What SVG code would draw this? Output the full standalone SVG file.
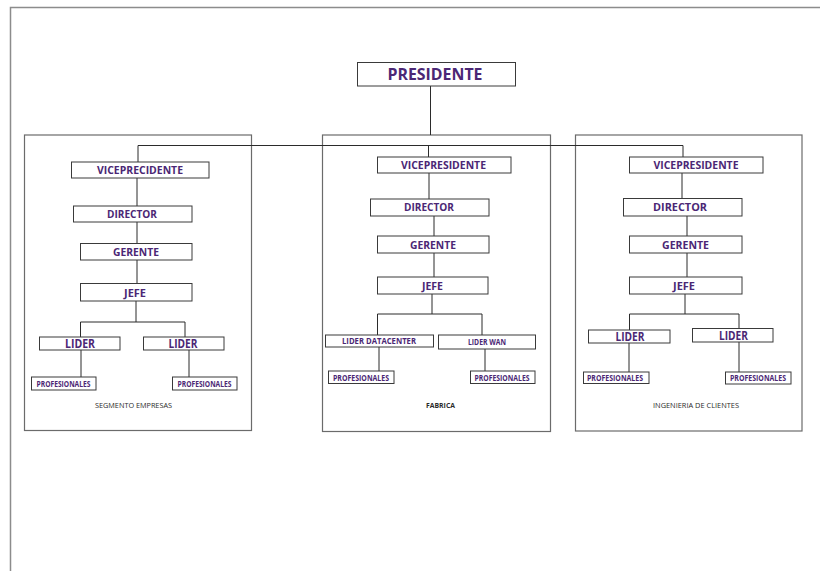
<svg xmlns="http://www.w3.org/2000/svg" width="820" height="571" viewBox="0 0 820 571">
  <style>
    .frame { fill: none; stroke: #8c8c8c; stroke-width: 1.5; }
    .section { fill: none; stroke: #6b6b6b; stroke-width: 1.2; }
    .box { fill: #ffffff; stroke: #3a3a3a; stroke-width: 1; }
    .link { fill: none; stroke: #2b2b2b; stroke-width: 1; }
    .t { font-family: "Open Sans", "Liberation Sans", sans-serif; font-weight: bold; fill: #4b2775; text-anchor: middle; }
    .cap { font-family: "Open Sans", "Liberation Sans", sans-serif; fill: #2a2a2a; text-anchor: middle; font-size: 7.8px; }
  </style>

  <rect width="820" height="571" fill="#ffffff"/>

  <!-- page frame -->
  <path class="frame" d="M10.5 571 V7.5 H820"/>

  <!-- department panels -->
  <g id="panels">
    <rect class="section" x="24.5" y="135" width="227" height="295.5"/>
    <rect class="section" x="322.5" y="135" width="228" height="296.5"/>
    <rect class="section" x="575.5" y="135" width="226.5" height="296"/>
  </g>

  <!-- connectors -->
  <g id="connectors">
    <path class="link" d="M430.5 86 V135"/>
    <path class="link" d="M138 145.5 H683"/>
    <!-- left branch -->
    <path class="link" d="M138 145.5 V162"/>
    <path class="link" d="M137 178 V206 M137 222 V243 M137 260 V283 M136 301 V322"/>
    <path class="link" d="M80.5 337 V322 H185 V337"/>
    <path class="link" d="M81 350 V377 M189 350 V377"/>
    <!-- middle branch -->
    <path class="link" d="M428.5 145.5 V157"/>
    <path class="link" d="M429 173 V199 M434 216 V236 M434 253 V277 M432 294 V314"/>
    <path class="link" d="M377.5 335 V314 H482 V335"/>
    <path class="link" d="M379 347 V371 M485 349 V371"/>
    <!-- right branch -->
    <path class="link" d="M683 145.5 V157"/>
    <path class="link" d="M682 173 V198 M687 216 V236 M687 253 V277 M685 294 V314"/>
    <path class="link" d="M629.5 330 V314 H739 V328"/>
    <path class="link" d="M629 343 V372 M739 342 V372"/>
  </g>

  <!-- top -->
  <g id="presidente">
    <rect class="box" x="357.5" y="62.5" width="158" height="23.5"/>
    <text class="t" x="435" y="79.5" font-size="15.5" textLength="95" lengthAdjust="spacingAndGlyphs">PRESIDENTE</text>
  </g>

  <!-- SEGMENTO EMPRESAS -->
  <g id="seg-vicepresidente">
    <rect class="box" x="71.5" y="162" width="137.5" height="16"/>
    <text class="t" x="140" y="173.8" font-size="10.8" textLength="86" lengthAdjust="spacingAndGlyphs">VICEPRECIDENTE</text>
  </g>
  <g id="seg-director">
    <rect class="box" x="73.5" y="206" width="118.5" height="16"/>
    <text class="t" x="132" y="217.8" font-size="10.8" textLength="50" lengthAdjust="spacingAndGlyphs">DIRECTOR</text>
  </g>
  <g id="seg-gerente">
    <rect class="box" x="80.5" y="243.5" width="111.5" height="16.5"/>
    <text class="t" x="136" y="255.5" font-size="10.8" textLength="46" lengthAdjust="spacingAndGlyphs">GERENTE</text>
  </g>
  <g id="seg-jefe">
    <rect class="box" x="80.5" y="283.5" width="111.5" height="17.5"/>
    <text class="t" x="135" y="296.5" font-size="10.8" textLength="22" lengthAdjust="spacingAndGlyphs">JEFE</text>
  </g>
  <g id="seg-lider-1">
    <rect class="box" x="39.5" y="337" width="80.5" height="13"/>
    <text class="t" x="80" y="347.8" font-size="12.5" textLength="30" lengthAdjust="spacingAndGlyphs">LIDER</text>
  </g>
  <g id="seg-lider-2">
    <rect class="box" x="143.5" y="337" width="80.5" height="13"/>
    <text class="t" x="183" y="347.8" font-size="12.5" textLength="29" lengthAdjust="spacingAndGlyphs">LIDER</text>
  </g>
  <g id="seg-profesionales-1">
    <rect class="box" x="31.5" y="377" width="64.5" height="13"/>
    <text class="t" x="63.5" y="386.5" font-size="8" textLength="54" lengthAdjust="spacingAndGlyphs">PROFESIONALES</text>
  </g>
  <g id="seg-profesionales-2">
    <rect class="box" x="172.5" y="377" width="64.5" height="13"/>
    <text class="t" x="204.5" y="386.5" font-size="8" textLength="54" lengthAdjust="spacingAndGlyphs">PROFESIONALES</text>
  </g>
  <text class="cap" x="133.5" y="407.5" textLength="77" lengthAdjust="spacingAndGlyphs">SEGMENTO EMPRESAS</text>

  <!-- FABRICA -->
  <g id="fab-vicepresidente">
    <rect class="box" x="377.5" y="157" width="133.5" height="16"/>
    <text class="t" x="443.5" y="168.8" font-size="10.8" textLength="85" lengthAdjust="spacingAndGlyphs">VICEPRESIDENTE</text>
  </g>
  <g id="fab-director">
    <rect class="box" x="370.5" y="199" width="118.5" height="17"/>
    <text class="t" x="429" y="211.3" font-size="10.8" textLength="50" lengthAdjust="spacingAndGlyphs">DIRECTOR</text>
  </g>
  <g id="fab-gerente">
    <rect class="box" x="377.5" y="236" width="111.5" height="17"/>
    <text class="t" x="433" y="248.8" font-size="10.8" textLength="46" lengthAdjust="spacingAndGlyphs">GERENTE</text>
  </g>
  <g id="fab-jefe">
    <rect class="box" x="377.5" y="277" width="110.5" height="17"/>
    <text class="t" x="432.5" y="289.8" font-size="10.8" textLength="21" lengthAdjust="spacingAndGlyphs">JEFE</text>
  </g>
  <g id="fab-lider-datacenter">
    <rect class="box" x="325.5" y="335" width="108" height="12"/>
    <text class="t" x="379" y="343.8" font-size="8" textLength="74" lengthAdjust="spacingAndGlyphs">LIDER DATACENTER</text>
  </g>
  <g id="fab-lider-wan">
    <rect class="box" x="438.5" y="335" width="97" height="14"/>
    <text class="t" x="487" y="345.3" font-size="8" textLength="38" lengthAdjust="spacingAndGlyphs">LIDER WAN</text>
  </g>
  <g id="fab-profesionales-1">
    <rect class="box" x="328.5" y="371" width="65.5" height="12.5"/>
    <text class="t" x="361" y="380.5" font-size="8" textLength="56" lengthAdjust="spacingAndGlyphs">PROFESIONALES</text>
  </g>
  <g id="fab-profesionales-2">
    <rect class="box" x="470.5" y="371" width="64.5" height="12.5"/>
    <text class="t" x="502" y="380.5" font-size="8" textLength="55" lengthAdjust="spacingAndGlyphs">PROFESIONALES</text>
  </g>
  <text class="cap" x="440.5" y="407.5" font-weight="bold" textLength="29" lengthAdjust="spacingAndGlyphs">FABRICA</text>

  <!-- INGENIERIA DE CLIENTES -->
  <g id="ing-vicepresidente">
    <rect class="box" x="629.5" y="157" width="133.5" height="16"/>
    <text class="t" x="696" y="168.8" font-size="10.8" textLength="85" lengthAdjust="spacingAndGlyphs">VICEPRESIDENTE</text>
  </g>
  <g id="ing-director">
    <rect class="box" x="623.5" y="198.5" width="118.5" height="17.5"/>
    <text class="t" x="680" y="211.3" font-size="10.8" textLength="54" lengthAdjust="spacingAndGlyphs">DIRECTOR</text>
  </g>
  <g id="ing-gerente">
    <rect class="box" x="629.5" y="236" width="112.5" height="17"/>
    <text class="t" x="685.5" y="248.8" font-size="10.8" textLength="47" lengthAdjust="spacingAndGlyphs">GERENTE</text>
  </g>
  <g id="ing-jefe">
    <rect class="box" x="629.5" y="277" width="112.5" height="17"/>
    <text class="t" x="684" y="289.8" font-size="10.8" textLength="22" lengthAdjust="spacingAndGlyphs">JEFE</text>
  </g>
  <g id="ing-lider-1">
    <rect class="box" x="588.5" y="330" width="81.5" height="13"/>
    <text class="t" x="630" y="340.8" font-size="12.5" textLength="29" lengthAdjust="spacingAndGlyphs">LIDER</text>
  </g>
  <g id="ing-lider-2">
    <rect class="box" x="692.5" y="328.5" width="80.5" height="13.5"/>
    <text class="t" x="733.5" y="339.8" font-size="12.5" textLength="29" lengthAdjust="spacingAndGlyphs">LIDER</text>
  </g>
  <g id="ing-profesionales-1">
    <rect class="box" x="583.5" y="372" width="65.5" height="11.5"/>
    <text class="t" x="615" y="381" font-size="8" textLength="56" lengthAdjust="spacingAndGlyphs">PROFESIONALES</text>
  </g>
  <g id="ing-profesionales-2">
    <rect class="box" x="725.5" y="372" width="65.5" height="12"/>
    <text class="t" x="758" y="381" font-size="8" textLength="56" lengthAdjust="spacingAndGlyphs">PROFESIONALES</text>
  </g>
  <text class="cap" x="696" y="407.5" textLength="86" lengthAdjust="spacingAndGlyphs">INGENIERIA DE CLIENTES</text>
</svg>
